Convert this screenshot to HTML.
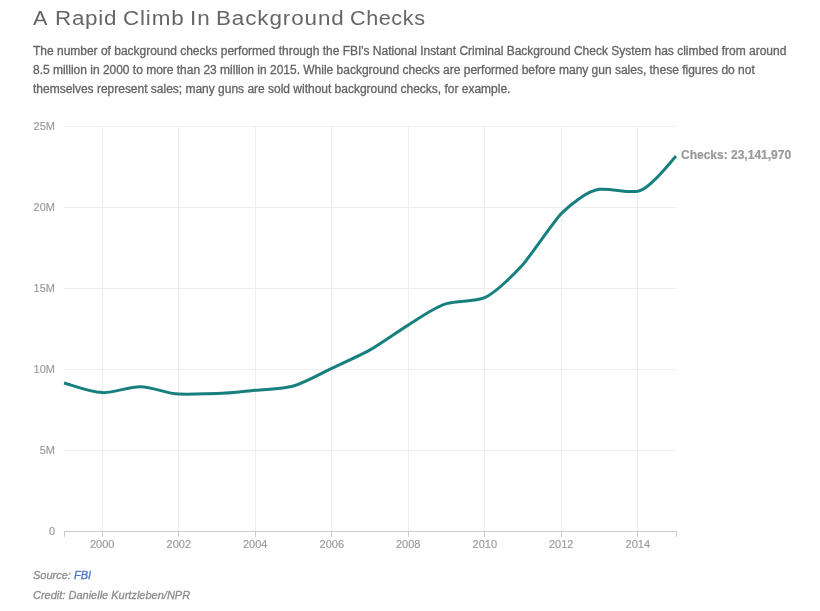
<!DOCTYPE html>
<html lang="en">
<head>
<meta charset="utf-8">
<title>A Rapid Climb In Background Checks</title>
<style>
html,body{margin:0;padding:0;background:#fff;}
body{width:820px;height:611px;position:relative;overflow:hidden;font-family:"Liberation Sans",Helvetica,Arial,sans-serif;-webkit-font-smoothing:antialiased;}
h1{position:absolute;left:0;top:7px;margin:0;font-weight:normal;font-size:20px;line-height:23px;height:23px;width:820px;color:#666;white-space:nowrap;}
h1 span{position:absolute;top:0;display:block;transform-origin:0 0;transform:scaleX(1.12);}
p.desc{position:absolute;left:33px;top:41.5px;margin:0;font-size:12px;line-height:19.2px;color:#646464;-webkit-text-stroke:0.3px #646464;white-space:nowrap;letter-spacing:-0.01px;}
.footer p{position:absolute;left:33px;margin:0;font-size:11px;line-height:14px;font-style:italic;color:#8c8c8c;-webkit-text-stroke:0.3px #8c8c8c;white-space:nowrap;}
.footer a{color:#4774cc;-webkit-text-stroke:0.3px #4774cc;text-decoration:none;}
</style>
</head>
<body>
<h1><span style="left:33.2px;transform:scaleX(1.08)">A </span><span style="left:54.66px;letter-spacing:0.65px">Rapid </span><span style="left:123.18px;letter-spacing:0.76px">Climb </span><span style="left:190.06px;letter-spacing:1.02px">In </span><span style="left:215.56px;letter-spacing:0.81px">Background </span><span style="left:349.6px;letter-spacing:0.54px;transform:scaleX(1.08)">Checks</span></h1>
<p class="desc">The number of background checks performed through the FBI's National Instant Criminal Background Check System has climbed from around<br>8.5 million in 2000 to more than 23 million in 2015. While background checks are performed before many gun sales, these figures do not<br>themselves represent sales; many guns are sold without background checks, for example.</p>
<svg width="820" height="611" viewBox="0 0 820 611" style="position:absolute;left:0;top:0">
<g shape-rendering="crispEdges" stroke="#eee" stroke-width="1" fill="none">
<line x1="102.5" x2="102.5" y1="126" y2="531"/>
<line x1="178.5" x2="178.5" y1="126" y2="531"/>
<line x1="255.5" x2="255.5" y1="126" y2="531"/>
<line x1="331.5" x2="331.5" y1="126" y2="531"/>
<line x1="408.5" x2="408.5" y1="126" y2="531"/>
<line x1="484.5" x2="484.5" y1="126" y2="531"/>
<line x1="561.5" x2="561.5" y1="126" y2="531"/>
<line x1="637.5" x2="637.5" y1="126" y2="531"/>
<line x1="64" x2="676" y1="126.5" y2="126.5"/>
<line x1="64" x2="676" y1="207.5" y2="207.5"/>
<line x1="64" x2="676" y1="288.5" y2="288.5"/>
<line x1="64" x2="676" y1="369.5" y2="369.5"/>
<line x1="64" x2="676" y1="450.5" y2="450.5"/>
</g>
<g shape-rendering="crispEdges" stroke="#ccc" stroke-width="1" fill="none">
<path d="M64.5,537V531.5H676.5V537"/>
<line x1="102.5" x2="102.5" y1="531" y2="537"/>
<line x1="178.5" x2="178.5" y1="531" y2="537"/>
<line x1="255.5" x2="255.5" y1="531" y2="537"/>
<line x1="331.5" x2="331.5" y1="531" y2="537"/>
<line x1="408.5" x2="408.5" y1="531" y2="537"/>
<line x1="484.5" x2="484.5" y1="531" y2="537"/>
<line x1="561.5" x2="561.5" y1="531" y2="537"/>
<line x1="637.5" x2="637.5" y1="531" y2="537"/>
</g>
<g font-family="'Liberation Sans', Helvetica, Arial, sans-serif" font-size="11" fill="#999" stroke="#999" stroke-width="0.15">
<text x="55" y="129.6" text-anchor="end">25M</text>
<text x="55" y="210.6" text-anchor="end">20M</text>
<text x="55" y="291.6" text-anchor="end">15M</text>
<text x="55" y="372.6" text-anchor="end">10M</text>
<text x="55" y="453.6" text-anchor="end">5M</text>
<text x="55" y="534.6" text-anchor="end">0</text>
<text x="102.2" y="548" text-anchor="middle">2000</text>
<text x="178.8" y="548" text-anchor="middle">2002</text>
<text x="255.2" y="548" text-anchor="middle">2004</text>
<text x="331.8" y="548" text-anchor="middle">2006</text>
<text x="408.2" y="548" text-anchor="middle">2008</text>
<text x="484.8" y="548" text-anchor="middle">2010</text>
<text x="561.2" y="548" text-anchor="middle">2012</text>
<text x="637.8" y="548" text-anchor="middle">2014</text>
</g>
<path d="M64,382.96C69.99,384.47,89.53,391.99,102.25,392.6S127.75,386.42,140.5,386.65S166.01,393.65,178.75,394.04S204.25,393.81,217,393.6S242.63,391.52,255.25,390.26S281.71,389.33,293.5,385.96S321.32,373.32,331.75,368.4S360.34,355.39,370,349.93S398.92,330.76,408.25,325.11S434.64,306.91,446.5,303.65S473.69,301.89,484.75,297.56S517.22,270.78,523,264.43S554.76,219.98,561.25,213.6S586.85,190.41,599.5,189.29S625.22,192.96,637.75,191.31S672.55,159.28,676,156.1" fill="none" stroke="#17807e" stroke-width="3"/>
<text x="681" y="158.6" font-family="'Liberation Sans', Helvetica, Arial, sans-serif" font-size="12" font-weight="bold" fill="#999" stroke="#999" stroke-width="0.2">Checks: 23,141,970</text>
</svg>
<div class="footer">
<p style="top:568px">Source: <a href="#">FBI</a></p>
<p style="top:588px">Credit: Danielle Kurtzleben/NPR</p>
</div>
</body>
</html>
